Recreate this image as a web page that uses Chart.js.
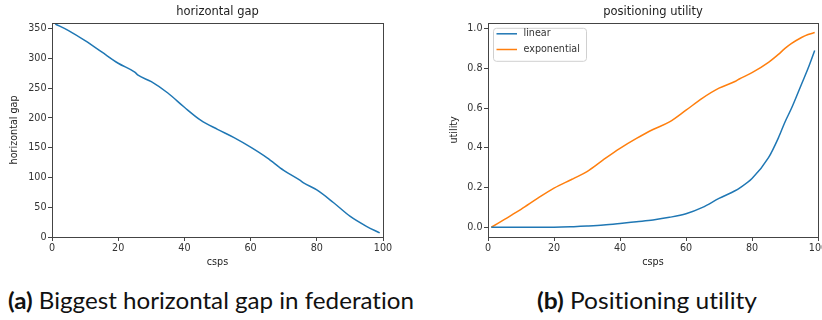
<!DOCTYPE html>
<html>
<head>
<meta charset="utf-8">
<script src="https://cdn.jsdelivr.net/npm/chart.js@4.4.0/dist/chart.umd.min.js"></script>
<style>
  body { margin: 0; background: #fff; width: 822px; height: 320px; position: relative; overflow: hidden; }
  #gapBox { position: absolute; left: 0; top: 0; width: 410px; height: 272px; }
  #utilBox { position: absolute; left: 440px; top: 0; width: 382px; height: 272px; }
  .cap { position: absolute; top: 289px; font-family: Lato, "Liberation Sans", sans-serif; font-variant-ligatures: none;
         font-size: 23px; line-height: 1; color: #111; white-space: nowrap; transform-origin: 0 0; }
  .cap b { font-weight: bold; }
</style>
</head>
<body>
<div id="gapBox"><canvas id="gapChart"></canvas></div>
<div id="utilBox"><canvas id="utilChart"></canvas></div>
<div class="cap" id="capA"><b>(a)</b> Biggest horizontal gap in federation</div>
<div class="cap" id="capB"><b>(b)</b> Positioning utility</div>

<script>
// left panel: biggest horizontal gap
const gapCsps = [1, 5, 10, 15, 20, 25, 26, 30, 35, 40, 45, 50, 55, 60, 65, 70, 75, 76, 80, 85, 90, 95, 99];
const gapValues = [358, 347, 330, 311, 292, 277, 272, 261, 242, 218, 196, 181, 167, 151, 133, 112, 95, 91, 79, 58, 35, 18, 7];
const gapTicks = [0, 50, 100, 150, 200, 250, 300, 350];

// right panel: positioning utility
const utilCsps = [1, 5, 10, 15, 20, 25, 26, 30, 35, 40, 45, 50, 55, 60, 65, 70, 75, 76, 80, 85, 88, 90, 92, 95, 97, 99];
const linearUtil = [0, 0, 0, 0, 0, 0.002, 0.003, 0.006, 0.011, 0.019, 0.028, 0.037, 0.05, 0.068, 0.1, 0.145, 0.185, 0.195, 0.245, 0.35, 0.45, 0.53, 0.6, 0.72, 0.8, 0.89];
const expUtil = [0, 0.04, 0.09, 0.145, 0.197, 0.238, 0.246, 0.28, 0.34, 0.397, 0.447, 0.492, 0.53, 0.589, 0.65, 0.7, 0.735, 0.745, 0.778, 0.83, 0.87, 0.9, 0.925, 0.955, 0.97, 0.98];
const utilTicks = [0, 0.2, 0.4, 0.6, 0.8, 1.0];

const xTicks = [0, 20, 40, 60, 80, 100];

const BLUE = '#1f77b4';
const ORANGE = '#ff7f0e';
const FONT = 'DejaVu Sans';

function points(xs, ys) {
  return xs.map((x, i) => ({ x: x, y: ys[i] }));
}

// matplotlib-like box around the plot area
const framePlugin = {
  id: 'frame',
  afterDraw(chart) {
    const a = chart.chartArea;
    const ctx = chart.ctx;
    ctx.save();
    ctx.strokeStyle = '#444';
    ctx.lineWidth = 1;
    ctx.strokeRect(Math.round(a.left) + 0.5, Math.round(a.top) + 0.5, Math.round(a.right - a.left), Math.round(a.bottom - a.top));
    ctx.restore();
  }
};

// legend box in upper-left corner, like matplotlib's
const boxLegend = {
  id: 'boxLegend',
  afterDraw(chart, args, opts) {
    if (!opts.show) return;
    const a = chart.chartArea;
    const ctx = chart.ctx;
    const x = a.left + 5, y = a.top + 5, w = 93, h = 33;
    ctx.save();
    ctx.fillStyle = 'rgba(255,255,255,0.8)';
    ctx.strokeStyle = '#d0d0d0';
    ctx.lineWidth = 1;
    ctx.beginPath();
    ctx.roundRect(x + 0.5, y + 0.5, w, h, 3);
    ctx.fill();
    ctx.stroke();
    ctx.font = '9.6px ' + FONT;
    ctx.textBaseline = 'middle';
    chart.data.datasets.forEach((ds, i) => {
      const ry = y + 6 + i * 15.7;
      ctx.strokeStyle = ds.borderColor;
      ctx.lineWidth = 1.5;
      ctx.beginPath();
      ctx.moveTo(x + 3.5, ry);
      ctx.lineTo(x + 24, ry);
      ctx.stroke();
      ctx.fillStyle = '#333';
      ctx.fillText(ds.label, x + 30.5, ry);
    });
    ctx.restore();
  }
};

function makeOptions(title, yLabel, yMin, yMax, yTicks, yWidth, yFmt, padRight, showLegend) {
  return {
    responsive: true,
    maintainAspectRatio: false,
    animation: false,
    layout: { padding: { left: 0, right: padRight, top: 0, bottom: 0 } },
    elements: { point: { radius: 0 }, line: { borderWidth: 1.5, cubicInterpolationMode: 'monotone' } },
    plugins: {
      legend: { display: false },
      tooltip: { enabled: false },
      title: {
        display: true, text: title, fullSize: false, color: '#222',
        font: { family: FONT, size: 11.5, weight: 'normal' },
        padding: { top: 5, bottom: 4 }
      },
      boxLegend: { show: showLegend }
    },
    scales: {
      x: {
        type: 'linear', min: 0, max: 100,
        afterBuildTicks: s => { s.ticks = xTicks.map(v => ({ value: v })); },
        afterFit: s => { s.height = 35; s.paddingLeft = 0; s.paddingRight = 0; },
        border: { display: false },
        grid: { drawOnChartArea: false, drawTicks: true, tickLength: 4, color: '#444' },
        ticks: { color: '#333', padding: 2, font: { family: FONT, size: 9.6 }, maxRotation: 0 },
        title: { display: true, text: 'csps', color: '#222', font: { family: FONT, size: 9.6 }, padding: { top: 3.5, bottom: 3.5 } }
      },
      y: {
        type: 'linear', min: yMin, max: yMax,
        afterBuildTicks: s => { s.ticks = yTicks.map(v => ({ value: v })); },
        afterFit: s => { s.width = yWidth; },
        border: { display: false },
        grid: { drawOnChartArea: false, drawTicks: true, tickLength: 4, color: '#444' },
        ticks: { color: '#333', padding: 1.5, font: { family: FONT, size: 9.6 }, callback: yFmt },
        title: { display: true, text: yLabel, color: '#222', font: { family: FONT, size: 9.6 }, padding: { top: 9, bottom: 9 } }
      }
    }
  };
}

new Chart(document.getElementById('gapChart'), {
  type: 'line',
  data: {
    datasets: [{ label: 'horizontal gap', data: points(gapCsps, gapValues), borderColor: BLUE }]
  },
  options: makeOptions('horizontal gap', 'horizontal gap', 0, 360, gapTicks, 52, v => v, 27, false),
  plugins: [framePlugin, boxLegend]
});

new Chart(document.getElementById('utilChart'), {
  type: 'line',
  data: {
    datasets: [
      { label: 'linear', data: points(utilCsps, linearUtil), borderColor: BLUE },
      { label: 'exponential', data: points(utilCsps, expUtil), borderColor: ORANGE }
    ]
  },
  options: makeOptions('positioning utility', 'utility', -0.049, 1.029, utilTicks, 48, v => Number(v).toFixed(1), 4, true),
  plugins: [framePlugin, boxLegend]
});

// fit captions to the widths seen in the figure
function fitCaption(id, left, width) {
  const el = document.getElementById(id);
  el.style.left = left + 'px';
  const w = el.getBoundingClientRect().width;
  el.style.transform = 'scaleX(' + (width / w) + ')';
}
fitCaption('capA', 8, 406);
fitCaption('capB', 537, 220);
</script>
</body>
</html>
